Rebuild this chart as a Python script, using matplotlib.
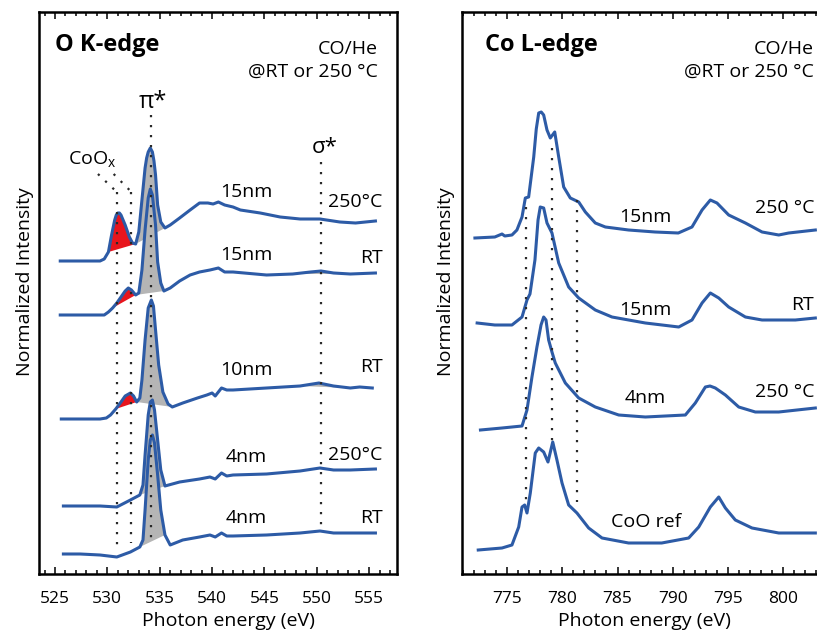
import numpy as np
import matplotlib.pyplot as plt
from matplotlib.ticker import MultipleLocator

plt.rcParams['font.family'] = ['Open Sans', 'DejaVu Sans']
plt.rcParams['mathtext.fontset'] = 'custom'
plt.rcParams['mathtext.rm'] = 'Open Sans'

# ---- O K-edge spectra (energy eV, intensity above own baseline) ----
ok_e1 = [525.5, 527.4, 529.3, 529.7, 530.1, 530.4, 530.7, 530.85, 531.0, 531.15, 531.3, 531.7, 532.1,
         532.4, 532.7, 533.0, 533.3, 533.6, 533.75, 533.9, 534.1, 534.3, 534.45, 534.6, 534.8, 535.1,
         535.5, 536.0, 536.9, 537.9, 538.8, 539.6, 540.1, 540.6, 541.2, 542.0, 542.7, 544.6, 546.5,
         548.4, 550.3, 552.2, 553.7, 555.6]
ok_i1 = [0.0, 0.0, 0.0, 0.02, 0.09, 0.26, 0.41, 0.46, 0.48, 0.48, 0.46, 0.36, 0.24,
         0.18, 0.17, 0.29, 0.61, 0.93, 1.03, 1.09, 1.13, 1.09, 1.00, 0.86, 0.56, 0.39,
         0.33, 0.36, 0.43, 0.51, 0.58, 0.58, 0.57, 0.59, 0.56, 0.54, 0.51, 0.48, 0.44,
         0.42, 0.42, 0.39, 0.38, 0.40]

ok_e2 = [525.5, 527.4, 529.3, 529.7, 530.1, 530.5, 530.9, 531.3, 531.7, 532.0, 532.3, 532.7, 533.0,
         533.3, 533.6, 533.9, 534.1, 534.3, 534.6, 534.8, 535.1, 535.4, 536.0, 536.9, 537.9, 538.8,
         539.8, 540.6, 541.2, 542.0, 545.2, 547.7, 549.4, 550.4, 551.6, 553.2, 555.6]
ok_i2 = [0.0, 0.0, 0.0, 0.0, 0.03, 0.07, 0.12, 0.18, 0.24, 0.27, 0.25, 0.20, 0.22,
         0.45, 0.85, 1.17, 1.26, 1.20, 0.90, 0.53, 0.32, 0.24, 0.27, 0.34, 0.40, 0.43,
         0.45, 0.47, 0.43, 0.43, 0.40, 0.41, 0.43, 0.44, 0.42, 0.41, 0.42]

ok_e3 = [525.6, 527.4, 529.3, 529.9, 530.3, 530.8, 531.3, 531.7, 532.2, 532.5, 532.8, 533.1, 533.3,
         533.6, 533.9, 534.2, 534.4, 534.6, 534.9, 535.3, 535.8, 536.2, 537.2, 538.6, 539.5, 540.0,
         540.3, 540.9, 541.4, 542.0, 545.2, 548.4, 550.2, 551.6, 553.2, 554.1, 555.3]
ok_i3 = [0.0, 0.0, 0.0, 0.01, 0.04, 0.10, 0.17, 0.23, 0.26, 0.23, 0.17, 0.21, 0.39,
         0.79, 1.11, 1.19, 1.13, 0.89, 0.54, 0.27, 0.15, 0.12, 0.16, 0.21, 0.24, 0.26,
         0.23, 0.31, 0.29, 0.29, 0.31, 0.33, 0.36, 0.33, 0.31, 0.32, 0.31]

ok_e4 = [525.8, 527.4, 529.3, 530.9, 532.2, 533.1, 533.4, 533.6, 533.9, 534.1, 534.3, 534.5, 534.8,
         535.1, 535.5, 536.9, 538.8, 539.8, 540.3, 540.9, 541.4, 542.0, 545.2, 548.4, 550.3, 551.6,
         553.2, 555.6]
ok_i4 = [0.0, 0.0, 0.0, -0.01, 0.06, 0.11, 0.21, 0.51, 0.91, 1.04, 1.06, 0.96, 0.66,
         0.36, 0.20, 0.24, 0.27, 0.29, 0.27, 0.33, 0.30, 0.31, 0.32, 0.35, 0.38, 0.36,
         0.36, 0.37]

ok_e5 = [525.8, 527.4, 529.3, 530.9, 532.2, 533.1, 533.4, 533.6, 533.9, 534.1, 534.3, 534.5, 534.8,
         535.1, 535.5, 536.0, 537.2, 538.8, 539.8, 540.3, 540.9, 541.4, 542.0, 545.2, 548.4, 550.3,
         551.6, 553.2, 555.6]
ok_i5 = [0.0, 0.0, -0.01, -0.03, 0.02, 0.07, 0.14, 0.44, 0.94, 1.14, 1.19, 1.11, 0.79,
         0.44, 0.19, 0.09, 0.14, 0.17, 0.19, 0.17, 0.21, 0.18, 0.18, 0.19, 0.21, 0.23,
         0.21, 0.21, 0.21]

ok_offsets = [3.13, 2.59, 1.55, 0.68, 0.20]
ok_sizes = ['15nm', '15nm', '10nm', '4nm', '4nm']
ok_conds = ['250\u00b0C', 'RT', 'RT', '250\u00b0C', 'RT']
ok_size_y = [3.82, 3.19, 2.04, 1.17, 0.56]
ok_cond_y = [3.72, 3.16, 2.07, 1.19, 0.56]

# shaded regions (curve index, start eV, end eV)
ok_red = [(0, 530.0, 532.8), (1, 530.4, 532.8), (2, 530.7, 532.9)]
ok_grey = [(0, 532.6, 535.6), (1, 532.6, 535.5), (2, 532.7, 536.3), (3, 533.0, 535.6), (4, 533.0, 535.6),
           (1, 547.6, 553.3), (2, 548.3, 553.3)]
ok_lines = [530.9, 532.3, 534.2, 550.4]

# ---- Co L-edge spectra ----
co_e1 = [772.1, 773.9, 774.55, 774.8, 775.45, 775.9, 776.36, 776.66, 776.96, 777.42, 777.65, 777.87,
         778.1, 778.32, 778.62, 778.92, 779.32, 779.68, 780.13, 780.73, 781.49, 782.09, 782.99, 783.9,
         786.0, 788.4, 790.5, 791.74, 792.65, 793.4, 794.0, 795.06, 796.57, 798.08, 799.59, 800.49, 802.9]
co_i1 = [-0.01, 0.0, 0.03, 0.01, 0.02, 0.07, 0.20, 0.39, 0.40, 0.80, 1.08, 1.24,
         1.25, 1.22, 1.07, 0.99, 1.05, 0.80, 0.50, 0.39, 0.35, 0.25, 0.14, 0.10,
         0.07, 0.05, 0.04, 0.10, 0.27, 0.37, 0.34, 0.22, 0.14, 0.05, 0.02, 0.04, 0.07]

co_e2 = [772.3, 773.9, 775.45, 776.36, 776.81, 777.08, 777.53, 777.81, 778.01, 778.32, 778.62, 779.07,
         779.68, 780.58, 781.49, 782.99, 784.5, 787.52, 790.54, 791.74, 792.65, 793.4, 794.16, 795.06,
         796.57, 798.08, 801.09, 802.9]
co_i2 = [0.02, 0.0, 0.0, 0.08, 0.25, 0.31, 0.65, 1.05, 1.18, 1.17, 1.02, 0.92,
         0.62, 0.38, 0.27, 0.15, 0.08, 0.02, -0.02, 0.05, 0.22, 0.32, 0.27, 0.18,
         0.08, 0.05, 0.05, 0.07]

co_e3 = [772.6, 774.55, 776.36, 776.81, 777.26, 777.71, 778.08, 778.32, 778.53, 778.77, 779.07, 779.37,
         780.28, 781.49, 782.99, 785.11, 787.52, 791.14, 792.04, 792.95, 793.37, 793.85, 794.76, 795.97,
         797.47, 799.59, 802.9]
co_i3 = [-0.01, 0.01, 0.03, 0.19, 0.52, 0.82, 1.04, 1.12, 1.09, 0.89, 0.77, 0.66,
         0.46, 0.31, 0.22, 0.14, 0.12, 0.14, 0.26, 0.42, 0.43, 0.41, 0.34, 0.22,
         0.17, 0.17, 0.21]

co_e4 = [772.4, 774.55, 775.45, 776.06, 776.36, 776.6, 776.81, 777.11, 777.56, 777.87, 778.32, 778.71,
         779.14, 779.52, 779.98, 780.58, 781.33, 782.39, 783.6, 786.0, 789.0, 791.44, 792.35, 793.4,
         794.16, 794.76, 795.66, 797.17, 799.59, 802.9]
co_i4 = [0.0, 0.02, 0.05, 0.23, 0.43, 0.45, 0.37, 0.57, 0.97, 1.02, 0.98, 0.88,
         1.08, 0.90, 0.67, 0.45, 0.37, 0.22, 0.12, 0.07, 0.07, 0.12, 0.23, 0.43,
         0.53, 0.42, 0.30, 0.22, 0.17, 0.17]

co_offsets = [3.37, 2.49, 1.45, 0.24]
co_sizes = ['15nm', '15nm', '4nm', 'CoO ref']
co_conds = ['250 \u00b0C', 'RT', '250 \u00b0C', '']
co_size_y = [3.57, 2.64, 1.76, 0.52]
co_cond_y = [3.66, 2.69, 1.82, 0.0]
co_lines = [776.7, 779.1, 781.3]

blue = '#2d5ba6'
dot = dict(color='#2a2a2a', lw=1.6, ls=(0, (1, 3.5)), zorder=4)

fig = plt.figure(figsize=(8.17, 6.30), dpi=100)
axL = fig.add_axes([39 / 817, 56 / 630, 358 / 817, 562 / 630])
axR = fig.add_axes([462 / 817, 56 / 630, 374 / 817, 562 / 630])


def style(ax, xlim):
    ax.set_xlim(*xlim)
    ax.set_ylim(0, 5.62)
    ax.set_yticks([])
    ax.xaxis.set_major_locator(MultipleLocator(5))
    ax.xaxis.set_minor_locator(MultipleLocator(1))
    ax.tick_params(axis='x', which='both', direction='in', top=True, width=1.1, labelsize=12.5, pad=12)
    ax.tick_params(axis='x', which='major', length=5)
    ax.tick_params(axis='x', which='minor', length=3)
    for s in ax.spines.values():
        s.set_linewidth(1.8)
    ax.set_xlabel('Photon energy (eV)', fontsize=14)
    ax.set_ylabel('Normalized Intensity', fontsize=14)


# left panel
style(axL, (523.47, 557.66))
ok_e = [ok_e1, ok_e2, ok_e3, ok_e4, ok_e5]
ok_i = [ok_i1, ok_i2, ok_i3, ok_i4, ok_i5]
for k in range(5):
    e = np.array(ok_e[k])
    y = np.array(ok_i[k]) + ok_offsets[k]
    axL.plot(e, y, color=blue, lw=2.2, zorder=3)
    axL.text(543.3, ok_size_y[k], ok_sizes[k], ha='center', va='center', fontsize=14)
    axL.text(556.3, ok_cond_y[k], ok_conds[k], ha='right', va='center', fontsize=14)

for k, e0, e1 in ok_red:
    e = np.array(ok_e[k]); y = np.array(ok_i[k]) + ok_offsets[k]
    m = (e >= e0) & (e <= e1)
    axL.fill(e[m], y[m], color='#e8151d', lw=0, zorder=2)
for k, e0, e1 in ok_grey:
    e = np.array(ok_e[k]); y = np.array(ok_i[k]) + ok_offsets[k]
    m = (e >= e0) & (e <= e1)
    axL.fill(e[m], y[m], color='#b5b5b5', lw=0, zorder=2)

axL.plot([ok_lines[0]] * 2, [3.82, 0.26], **dot)
axL.plot([ok_lines[1]] * 2, [3.82, 0.31], **dot)
axL.plot([ok_lines[2]] * 2, [4.59, 0.29], **dot)
axL.plot([ok_lines[3]] * 2, [4.12, 0.47], **dot)
axL.plot([529.1, ok_lines[0]], [4.00, 3.82], **dot)
axL.plot([530.6, ok_lines[1]], [4.00, 3.82], **dot)

axL.text(525.0, 5.29, 'O K-edge', fontsize=17, fontweight='bold', ha='left', va='center')
axL.text(555.85, 5.25, 'CO/He', fontsize=14, ha='right', va='center')
axL.text(555.85, 5.02, '@RT or 250 \u00b0C', fontsize=14, ha='right', va='center')
axL.text(534.36, 4.72, '\u03c0*', fontsize=17, ha='center', va='center')
axL.text(550.8, 4.27, '\u03c3*', fontsize=16, ha='center', va='center')
axL.text(528.5, 4.14, 'CoO$_\\mathregular{x}$', fontsize=14, ha='center', va='center')
axL.xaxis.set_label_coords(0.53, -0.067)
axL.yaxis.set_label_coords(-0.015, 0.52)

# right panel
style(axR, (770.93, 804.77))
co_e = [co_e1, co_e2, co_e3, co_e4]
co_i = [co_i1, co_i2, co_i3, co_i4]
for k in range(4):
    e = np.array(co_e[k])
    y = np.array(co_i[k]) + co_offsets[k]
    axR.plot(e, y, color=blue, lw=2.2, zorder=3)
    axR.text(787.55, co_size_y[k], co_sizes[k], ha='center', va='center', fontsize=14)
    if co_conds[k]:
        axR.text(802.8, co_cond_y[k], co_conds[k], ha='right', va='center', fontsize=14)

axR.plot([co_lines[0]] * 2, [3.67, 0.69], **dot)
axR.plot([co_lines[1]] * 2, [4.26, 1.29], **dot)
axR.plot([co_lines[2]] * 2, [3.74, 0.72], **dot)

axR.text(773.0, 5.29, 'Co L-edge', fontsize=17, fontweight='bold', ha='left', va='center')
axR.text(802.8, 5.25, 'CO/He', fontsize=14, ha='right', va='center')
axR.text(802.8, 5.02, '@RT or 250 \u00b0C', fontsize=14, ha='right', va='center')
axR.xaxis.set_label_coords(0.489, -0.067)
axR.yaxis.set_label_coords(-0.019, 0.52)

fig.savefig('out.png', dpi=100)
